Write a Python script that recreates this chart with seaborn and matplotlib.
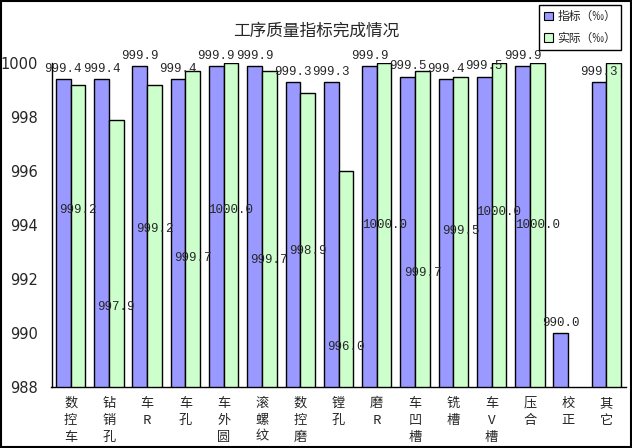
import pandas as pd
import numpy as np
import seaborn as sns
import matplotlib.pyplot as plt
from matplotlib.patches import Rectangle, Patch

# 工序质量指标完成情况
processes = ['数控车', '钻销孔', '车R', '车孔', '车外圆', '滚螺纹', '数控磨', '镗孔',
             '磨R', '车凹槽', '铣槽', '车V槽', '压合', '校正', '其它']
target = [999.4, 999.4, 999.9, 999.4, 999.9, 999.9, 999.3, 999.3,
          999.9, 999.5, 999.4, 999.5, 999.9, 990.0, 999.3]
actual = [999.2, 997.9, 999.2, 999.7, 1000.0, 999.7, 998.9, 996.0,
          1000.0, 999.7, 999.5, 1000.0, 1000.0, np.nan, 1000.0]
series_names = ['指标（‰）', '实际（‰）']
yticks = [988, 990, 992, 994, 996, 998, 1000]

# where the Excel chart put the labels of the second series (data units)
actual_label_y = [994.56, 990.98, 993.85, 992.77, 994.54, 992.69, 993.02, 989.50,
                  994.01, 992.22, 993.76, 994.50, 994.01, np.nan, 994.01]

df = pd.DataFrame({
    'process': processes * 2,
    'series': [series_names[0]] * len(processes) + [series_names[1]] * len(processes),
    'value': target + actual,
})

sns.set_theme(style='white')
plt.rcParams['font.family'] = ['Noto Sans CJK SC', 'DejaVu Sans']
mono = ['Liberation Mono', 'DejaVu Sans Mono']
colors = ['#9999FF', '#CCFFCC']

fig = plt.figure(figsize=(6.32, 4.48), dpi=100)
ax = fig.add_axes([51.5 / 632, 1 - 387 / 448, 574 / 632, 324 / 448])

sns.barplot(data=df, x='process', y='value', hue='series', palette=colors,
            width=0.77, edgecolor='black', linewidth=1, saturation=1,
            order=processes, hue_order=series_names, ax=ax)

ax.set_ylim(988, 1000)
ax.set_xlim(-0.5, len(processes) - 0.5)
ax.set_yticks(yticks)
ax.set_yticklabels([str(t) for t in yticks], fontsize=10.5, family=['DejaVu Sans'])
ax.tick_params(axis='y', direction='in', length=4, width=1, color='black', pad=10)
ax.set_xticks(range(len(processes)))
ax.set_xticklabels(['\n'.join(list(p)) for p in processes], fontsize=9.5,
                   linespacing=1.4, va='top')
ax.tick_params(axis='x', length=0, pad=7)
ax.set_xlabel('')
ax.set_ylabel('')
for side in ['top', 'right']:
    ax.spines[side].set_visible(False)
for side in ['left', 'bottom']:
    ax.spines[side].set_color('black')
    ax.spines[side].set_linewidth(1)

# labels
blue_bars, green_bars = ax.containers[0], ax.containers[1]
ax.bar_label(blue_bars, labels=[f'{v:.1f}' for v in target], padding=3,
             fontsize=9, family=mono, clip_on=False)
for bar, v, ly in zip(green_bars, actual, actual_label_y):
    if np.isnan(v):
        continue
    ax.text(bar.get_x() + bar.get_width() / 2, ly, f'{v:.1f}', ha='center',
            va='center', fontsize=9, family=mono)

ax.get_legend().remove()
handles = [Patch(facecolor=c, edgecolor='black', linewidth=0.8) for c in colors]
fig.legend(handles, series_names, loc='upper left',
           bbox_to_anchor=(539 / 632, 1 - 5 / 448), fontsize=8.5,
           frameon=True, fancybox=False, edgecolor='black', framealpha=1,
           handlelength=0.7, handleheight=0.7, handletextpad=0.4,
           borderpad=0.45, labelspacing=0.7, borderaxespad=0)

fig.text(316 / 632, 1 - 31 / 448, '工序质量指标完成情况', ha='center', va='center',
         fontsize=12)

fig.patches.append(Rectangle((0.001, 0.003), 0.997, 0.995, transform=fig.transFigure,
                             fill=False, edgecolor='black', linewidth=1.5))

fig.savefig('out.png', dpi=100)
